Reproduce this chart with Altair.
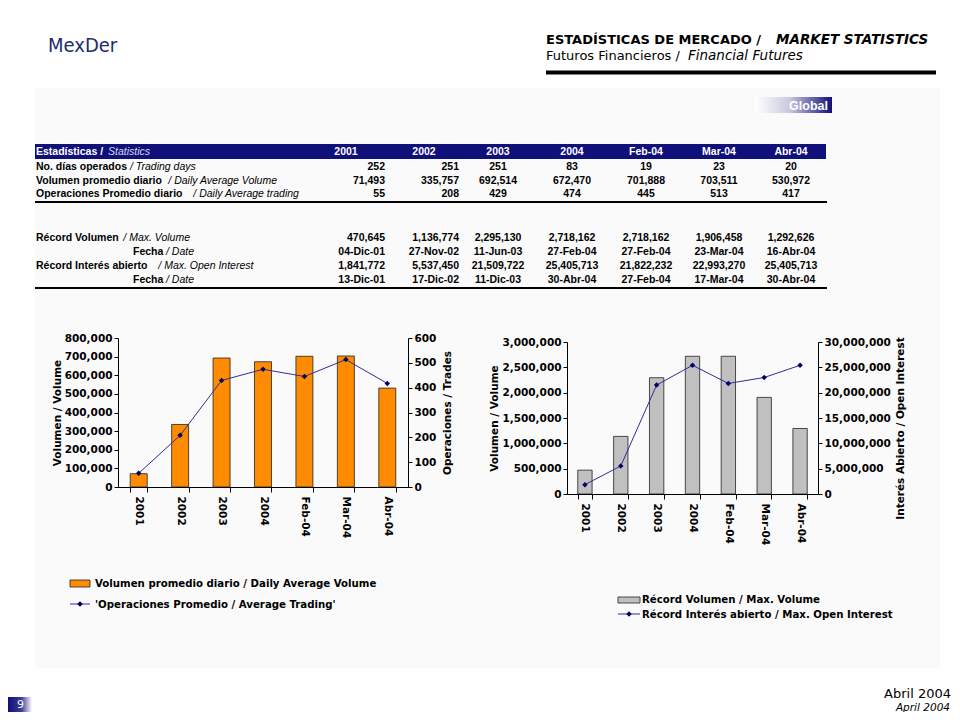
import altair as alt
import pandas as pd

# ---------------- data ----------------
categories = ["2001", "2002", "2003", "2004", "Feb-04", "Mar-04", "Abr-04"]
trading_days = [252, 251, 251, 83, 19, 23, 20]
avg_volume = [71493, 335757, 692514, 672470, 701888, 703511, 530972]
avg_trades = [55, 208, 429, 474, 445, 513, 417]
max_volume = [470645, 1136774, 2295130, 2718162, 2718162, 1906458, 1292626]
max_volume_date = ["04-Dic-01", "27-Nov-02", "11-Jun-03", "27-Feb-04", "27-Feb-04", "23-Mar-04", "16-Abr-04"]
max_open_interest = [1841772, 5537450, 21509722, 25405713, 21822232, 22993270, 25405713]
max_oi_date = ["13-Dic-01", "17-Dic-02", "11-Dic-03", "30-Abr-04", "27-Feb-04", "17-Mar-04", "30-Abr-04"]

row_labels_es = ["No. días operados", "Volumen promedio diario", "Operaciones Promedio diario",
                 "Récord Volumen", "Fecha", "Récord Interés abierto", "Fecha"]
row_labels_en = ["/ Trading days", "/ Daily Average Volume", "/ Daily Average trading",
                 "/ Max. Volume", "/ Date", "/ Max. Open Interest", "/ Date"]

left_vol_ticks = [0, 100000, 200000, 300000, 400000, 500000, 600000, 700000, 800000]
left_ops_ticks = [0, 100, 200, 300, 400, 500, 600]
right_vol_ticks = [0, 500000, 1000000, 1500000, 2000000, 2500000, 3000000]
right_oi_ticks = [0, 5000000, 10000000, 15000000, 20000000, 25000000, 30000000]

# ---------------- layout ----------------
W, H = 944, 704
NAVY = "#10107a"
one = pd.DataFrame({"k": [0]})

row_y = [158.7, 173, 186.3, 230.3, 244.3, 258.3, 272]
label_es_x = [28, 28, 28, 28, 125, 28, 125]
label_en_x = [122, 160.3, 185.3, 115.3, 158, 150.3, 158]
col_x = [377, 451, 490, 564, 638, 711, 783]
col_align = ["right", "right", "center", "center", "center", "center", "center"]
header_x = [338, 416, 490, 564, 638, 711, 783]


def txt(t, x, y, size=10.5, weight="bold", style="normal", color="black",
        align="left", font="Liberation Sans", baseline="middle"):
    return alt.Chart(one).mark_text(
        text=t, font=font, fontSize=size, fontWeight=weight, fontStyle=style,
        color=color, align=align, baseline=baseline
    ).encode(x=alt.value(x), y=alt.value(y))


def rect(x, x2, y, y2, color, **kw):
    return alt.Chart(one).mark_rect(color=color, **kw).encode(
        x=alt.value(x), x2=alt.value(x2), y=alt.value(y), y2=alt.value(y2))


def hrule(x, x2, y, color="black", width=1):
    return alt.Chart(one).mark_rule(color=color, strokeWidth=width).encode(
        x=alt.value(x), x2=alt.value(x2), y=alt.value(y))


def diamond(x, y):
    return alt.Chart(one).mark_point(shape="diamond", filled=True, size=30,
                                     color="#000066", opacity=1).encode(
        x=alt.value(x), y=alt.value(y))


layers = []

# background panel
layers.append(rect(27, 932, 80, 660, "#fafafa"))

# header
layers.append(txt("MexDer", 40, 38, size=20, weight="normal", color="#1d2c6b",
                  font="DejaVu Sans Condensed, Liberation Sans, sans-serif"))
layers.append(txt("ESTADÍSTICAS DE MERCADO /", 538, 32, size=13, font="DejaVu Sans"))
layers.append(txt("MARKET STATISTICS", 768, 32, size=13.5, style="italic", font="DejaVu Sans"))
layers.append(txt("Futuros Financieros /", 538, 48, size=13, weight="normal", font="DejaVu Sans"))
layers.append(txt("Financial Futures", 680, 48, size=13.5, weight="normal", style="italic", font="DejaVu Sans"))
layers.append(hrule(538, 928, 64.5, width=4))

# Global tag
layers.append(rect(747, 824, 89, 105, alt.Gradient(
    gradient="linear",
    stops=[alt.GradientStop(color="#ffffff", offset=0),
           alt.GradientStop(color="#c9c9e0", offset=0.45),
           alt.GradientStop(color=NAVY, offset=1)],
    x1=0, x2=1, y1=0, y2=0)))
layers.append(txt("Global", 820, 97.5, size=12.5, color="white", align="right"))

# table header bar
layers.append(rect(27, 818, 136, 151, NAVY))
layers.append(txt("Estadísticas /", 28, 144, color="white"))
layers.append(txt("Statistics", 100, 144, weight="normal", style="italic", color="#d8d8f0"))
hdr = pd.DataFrame({"x": header_x, "y": [144] * 7, "t": categories})
layers.append(alt.Chart(hdr).mark_text(font="Liberation Sans", fontSize=10.5, fontWeight="bold",
                                       color="white", align="center", baseline="middle").encode(
    x=alt.X("x:Q", scale=None, axis=None), y=alt.Y("y:Q", scale=None, axis=None), text="t:N"))

# row labels
for i in range(len(row_labels_es)):
    layers.append(txt(row_labels_es[i], label_es_x[i], row_y[i]))
    layers.append(txt(row_labels_en[i], label_en_x[i], row_y[i], weight="normal", style="italic"))

# table values
rows_vals = [
    [f"{v:,}" for v in trading_days],
    [f"{v:,}" for v in avg_volume],
    [f"{v:,}" for v in avg_trades],
    [f"{v:,}" for v in max_volume],
    max_volume_date,
    [f"{v:,}" for v in max_open_interest],
    max_oi_date,
]
cells = []
for r, vals in enumerate(rows_vals):
    for c, v in enumerate(vals):
        cells.append({"x": col_x[c], "y": row_y[r], "t": v, "a": col_align[c]})
cells = pd.DataFrame(cells)
for a in ["right", "center"]:
    layers.append(alt.Chart(cells[cells["a"] == a]).mark_text(
        font="Liberation Sans", fontSize=10.5, fontWeight="bold", color="black",
        align=a, baseline="middle").encode(
        x=alt.X("x:Q", scale=None, axis=None), y=alt.Y("y:Q", scale=None, axis=None), text="t:N"))

layers.append(hrule(27, 819, 194, width=2))
layers.append(hrule(27, 819, 280, width=2))

# ---------------- charts ----------------
df = pd.DataFrame({"cat": categories, "avg_volume": avg_volume, "avg_trades": avg_trades,
                   "max_volume": max_volume, "max_oi": max_open_interest})

ax = dict(labelFont="DejaVu Sans", labelFontWeight="bold", labelFontSize=10.5, labelColor="black",
          titleFont="DejaVu Sans", titleFontWeight="bold", titleFontSize=10.5, titleColor="black",
          domainColor="black", domainWidth=1, tickColor="black", grid=False, labelOverlap=False,
          zindex=1)

LINE_C = "#2e2e96"
PT_C = "#000066"
FMT = ",.0f"

# left chart
xL_band = alt.Scale(type="band", range=[110, 400], paddingInner=0.59, paddingOuter=0.295)
xL_point = alt.Scale(type="point", range=[110, 400], padding=0.5)
yL_vol = alt.Scale(domain=[0, 800000], range=[479, 330], nice=False)
yL_ops = alt.Scale(domain=[0, 600], range=[479, 330], nice=False)

layers.append(alt.Chart(df).mark_bar(color="#FF8C00", stroke="#222222", strokeWidth=0.8).encode(
    x=alt.X("cat:N", sort=categories, title=None, scale=xL_band,
            axis=alt.Axis(orient="bottom", offset=-225, labelAngle=90, tickBand="extent",
                          tickSize=5, labelPadding=4, **ax)),
    y=alt.Y("avg_volume:Q", title="Volumen / Volume", scale=yL_vol,
            axis=alt.Axis(orient="left", offset=-110, values=left_vol_ticks, format=FMT,
                          tickSize=4, titlePadding=2, **ax))))
layers.append(alt.Chart(df).mark_line(color=LINE_C, strokeWidth=1).encode(
    x=alt.X("cat:N", sort=categories, scale=xL_point, axis=None),
    y=alt.Y("avg_trades:Q", title="Operaciones / Trades", scale=yL_ops,
            axis=alt.Axis(orient="right", offset=-544, values=left_ops_ticks, format=FMT,
                          tickSize=4, titleAngle=270, titleBaseline="top", titlePadding=7, **ax))))
layers.append(alt.Chart(df).mark_point(shape="diamond", filled=True, size=30, color=PT_C, opacity=1).encode(
    x=alt.X("cat:N", sort=categories, scale=xL_point, axis=None),
    y=alt.Y("avg_trades:Q", scale=yL_ops, axis=None)))

# right chart
xR_band = alt.Scale(type="band", range=[559, 810], paddingInner=0.6, paddingOuter=0.3)
xR_point = alt.Scale(type="point", range=[559, 810], padding=0.5)
yR_vol = alt.Scale(domain=[0, 3000000], range=[486, 334], nice=False)
yR_oi = alt.Scale(domain=[0, 30000000], range=[486, 334], nice=False)

layers.append(alt.Chart(df).mark_bar(color="#C0C0C0", stroke="#222222", strokeWidth=0.8).encode(
    x=alt.X("cat:N", sort=categories, title=None, scale=xR_band,
            axis=alt.Axis(orient="bottom", offset=-218, labelAngle=90, tickBand="extent",
                          tickSize=5, labelPadding=4, **ax)),
    y=alt.Y("max_volume:Q", title="Volumen / Volume", scale=yR_vol,
            axis=alt.Axis(orient="left", offset=-559, values=right_vol_ticks, format=FMT,
                          tickSize=4, titlePadding=2, **ax))))
layers.append(alt.Chart(df).mark_line(color=LINE_C, strokeWidth=1).encode(
    x=alt.X("cat:N", sort=categories, scale=xR_point, axis=None),
    y=alt.Y("max_oi:Q", title="Interés Abierto / Open Interest", scale=yR_oi,
            axis=alt.Axis(orient="right", offset=-134, values=right_oi_ticks, format=FMT,
                          tickSize=4, titleAngle=270, titleBaseline="top", titlePadding=5,
                          titleY=420, **ax))))
layers.append(alt.Chart(df).mark_point(shape="diamond", filled=True, size=30, color=PT_C, opacity=1).encode(
    x=alt.X("cat:N", sort=categories, scale=xR_point, axis=None),
    y=alt.Y("max_oi:Q", scale=yR_oi, axis=None)))

# ---------------- legends ----------------
layers.append(rect(62, 82, 572, 579, "#FF8C00", stroke="#222222", strokeWidth=0.8))
layers.append(txt("Volumen promedio diario / Daily Average Volume", 87, 575.5, size=10.2, font="DejaVu Sans"))
layers.append(hrule(62, 82, 596, color=LINE_C, width=1))
layers.append(diamond(72, 596))
layers.append(txt("'Operaciones Promedio / Average Trading'", 87, 596.5, size=10.2, font="DejaVu Sans"))

layers.append(rect(610, 632, 589, 595, "#C0C0C0", stroke="#222222", strokeWidth=0.8))
layers.append(txt("Récord Volumen / Max. Volume", 634, 592, size=10.2, font="DejaVu Sans"))
layers.append(hrule(610, 632, 606, color=LINE_C, width=1))
layers.append(diamond(621, 606))
layers.append(txt("Récord Interés abierto / Max. Open Interest", 634, 606.5, size=10.2, font="DejaVu Sans"))

# ---------------- footer ----------------
layers.append(rect(0, 24, 689, 704, alt.Gradient(
    gradient="linear",
    stops=[alt.GradientStop(color=NAVY, offset=0),
           alt.GradientStop(color="#3a3a96", offset=0.55),
           alt.GradientStop(color="#ffffff", offset=1)],
    x1=0, x2=1, y1=0, y2=0)))
layers.append(txt("9", 9, 697, size=11, weight="normal", color="white", font="DejaVu Sans"))
layers.append(txt("Abril 2004", 943, 686, size=13, weight="normal", align="right", font="DejaVu Sans"))
layers.append(txt("April 2004", 942, 700, size=10.5, weight="normal", style="italic",
                  align="right", font="DejaVu Sans"))

chart = alt.layer(*layers).resolve_scale(x="independent", y="independent").properties(
    width=W, height=H, autosize=alt.AutoSizeParams(type="none"), padding=0
).configure_view(strokeWidth=0)

chart.save("out.html", embed_options={"renderer": "svg", "actions": False})
